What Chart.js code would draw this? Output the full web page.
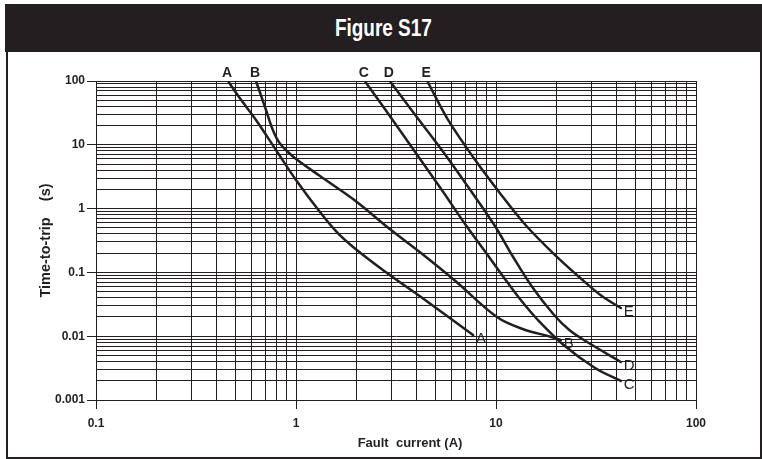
<!DOCTYPE html>
<html>
<head>
<meta charset="utf-8">
<script src="https://cdn.jsdelivr.net/npm/chart.js@4.4.1/dist/chart.umd.min.js"></script>
<style>
  html, body { margin: 0; padding: 0; background: #fff; }
  body { width: 762px; height: 459px; position: relative; overflow: hidden; }
  #frame {
    position: absolute; left: 6px; top: 4px; width: 756px; height: 455px;
    border: 2px solid #231f20; box-sizing: border-box;
  }
  #header {
    position: absolute; left: 5px; top: 4px; width: 757px; height: 48px;
    background: #231f20; color: #fff; text-align: center;
    font: bold 24px "Liberation Sans", Arial, sans-serif;
    line-height: 48px;
  }
  #header span { display: inline-block; transform: scaleX(0.79); }
  #wrap { position: absolute; left: 0; top: 0; width: 762px; height: 459px; }
</style>
</head>
<body>
<div id="frame"></div>
<div id="header"><span>Figure S17</span></div>
<div id="wrap"><canvas id="fig"></canvas></div>
<script>
const ink = '#231f20';

// tick labels (powers of ten only)
const xTickLabels = ['0.1', '1', '10', '100'];
const yTickLabels = ['0.001', '0.01', '0.1', '1', '10', '100'];

// curves: fault current (A) vs time-to-trip (s)
const curveNames = ['A', 'B', 'C', 'D', 'E'];
const currentA = [0.457, 0.519, 0.631, 0.794, 1.0, 1.318, 1.615, 1.957, 2.805, 4.217, 7.68];
const timeA    = [100, 56.1, 24.5, 8.29, 2.81, 0.885, 0.415, 0.241, 0.1014, 0.0411, 0.01045];
const currentB = [0.631, 0.708, 0.759, 0.804, 0.851, 0.912, 1.0, 1.318, 1.957, 2.943, 4.217, 6.265, 10.11, 13.6, 18.89, 21.08];
const timeB    = [100, 35.1, 18.3, 12.3, 9.58, 7.71, 5.99, 3.24, 1.364, 0.479, 0.2014, 0.0733, 0.02, 0.01297, 0.00972, 0.00871];
const currentC = [2.207, 2.805, 3.878, 5.36, 7.06, 9.31, 11.28, 13.3, 16.2, 21.78, 31.27, 42.06];
const timeC    = [100, 35.1, 8.29, 1.957, 0.553, 0.168, 0.0733, 0.0369, 0.01795, 0.00728, 0.003175, 0.001986];
const currentD = [2.943, 3.878, 5.36, 7.32, 9.88, 12.18, 15.17, 19.52, 23.26, 28.03, 42.06];
const timeD    = [100, 31.5, 8.29, 2.10, 0.534, 0.1743, 0.0591, 0.0215, 0.01251, 0.0084, 0.00394];
const currentE = [4.53, 5.76, 7.68, 10.45, 14.05, 19.5, 27.1, 33.8, 42.1];
const timeE    = [100, 24.5, 6.44, 1.756, 0.553, 0.194, 0.076, 0.0427, 0.0277];

const currents = [currentA, currentB, currentC, currentD, currentE];
const times = [timeA, timeB, timeC, timeD, timeE];

function zip(xs, ys) {
  return xs.map((x, i) => ({x, y: ys[i]}));
}

// 1..9 x 10^n for every decade, plus the last power of ten
function logTicks(labels) {
  const ticks = [];
  const decades = labels.map(Number);
  decades.forEach((d, i) => {
    if (i === decades.length - 1) {
      ticks.push({value: d});
      return;
    }
    for (let m = 1; m <= 9; m++) ticks.push({value: d * m});
  });
  return ticks;
}

function labelFor(value, labels) {
  return labels.find(l => Math.abs(Number(l) - value) / value < 1e-6) || '';
}

const family = '"Liberation Sans", Arial, sans-serif';
const tickFont = {family, size: 12, weight: 'bold'};

const curveLabels = {
  id: 'curveLabels',
  afterDatasetsDraw(chart) {
    const {ctx, chartArea, scales: {x, y}} = chart;
    ctx.save();
    ctx.fillStyle = ink;
    chart.data.datasets.forEach(ds => {
      const first = ds.data[0];
      const last = ds.data[ds.data.length - 1];
      ctx.font = `bold 14px ${family}`;
      ctx.textAlign = 'center';
      ctx.textBaseline = 'alphabetic';
      ctx.fillText(ds.label, x.getPixelForValue(first.x) - 1, y.getPixelForValue(first.y) - 4);
      ctx.font = `15px ${family}`;
      ctx.textAlign = 'left';
      ctx.textBaseline = 'middle';
      ctx.fillText(ds.label, x.getPixelForValue(last.x) + 3, y.getPixelForValue(last.y) + 4);
    });
    ctx.font = `bold 13px ${family}`;
    ctx.textAlign = 'center';
    ctx.textBaseline = 'middle';
    ctx.fillText('Fault  current (A)', (chartArea.left + chartArea.right) / 2 + 14, 443);
    ctx.restore();
  }
};

new Chart(document.getElementById('fig'), {
  type: 'line',
  data: {
    datasets: curveNames.map((name, i) => ({
      label: name,
      data: zip(currents[i], times[i]),
      borderColor: ink,
      borderWidth: 2.5,
      pointRadius: 0,
      tension: 0.35,
      borderCapStyle: 'round',
      borderJoinStyle: 'round',
      fill: false,
    }))
  },
  options: {
    responsive: true,
    maintainAspectRatio: false,
    animation: false,
    layout: {
      padding: {left: 8, top: 81, right: 66, bottom: 0}
    },
    scales: {
      x: {
        type: 'logarithmic',
        min: 0.1,
        max: 100,
        afterBuildTicks: scale => { scale.ticks = logTicks(xTickLabels); },
        afterFit: scale => { scale.height = 59; },
        grid: {
          color: ink,
          lineWidth: 1,
          tickLength: 9,
          tickColor: c => labelFor(c.tick.value, xTickLabels) ? ink : 'rgba(0,0,0,0)',
        },
        border: {color: ink, width: 1},
        ticks: {
          autoSkip: false,
          maxRotation: 0,
          padding: 7,
          color: ink,
          font: tickFont,
          callback: value => labelFor(value, xTickLabels),
        },
      },
      y: {
        type: 'logarithmic',
        min: 0.001,
        max: 100,
        afterBuildTicks: scale => { scale.ticks = logTicks(yTickLabels); },
        afterFit: scale => { scale.width = 88; },
        grid: {
          color: ink,
          lineWidth: 1,
          tickLength: 9,
          tickColor: c => labelFor(c.tick.value, yTickLabels) ? ink : 'rgba(0,0,0,0)',
        },
        border: {color: ink, width: 1},
        ticks: {
          autoSkip: false,
          padding: 2,
          color: ink,
          font: tickFont,
          callback: value => labelFor(value, yTickLabels),
        },
        title: {
          display: true,
          text: 'Time-to-trip    (s)',
          color: ink,
          font: {family, size: 14.5, weight: 'bold'},
          padding: {top: 29, bottom: 0},
        },
      },
    },
    plugins: {
      legend: {display: false},
      tooltip: {enabled: false},
    },
  },
  plugins: [curveLabels]
});
</script>
</body>
</html>
